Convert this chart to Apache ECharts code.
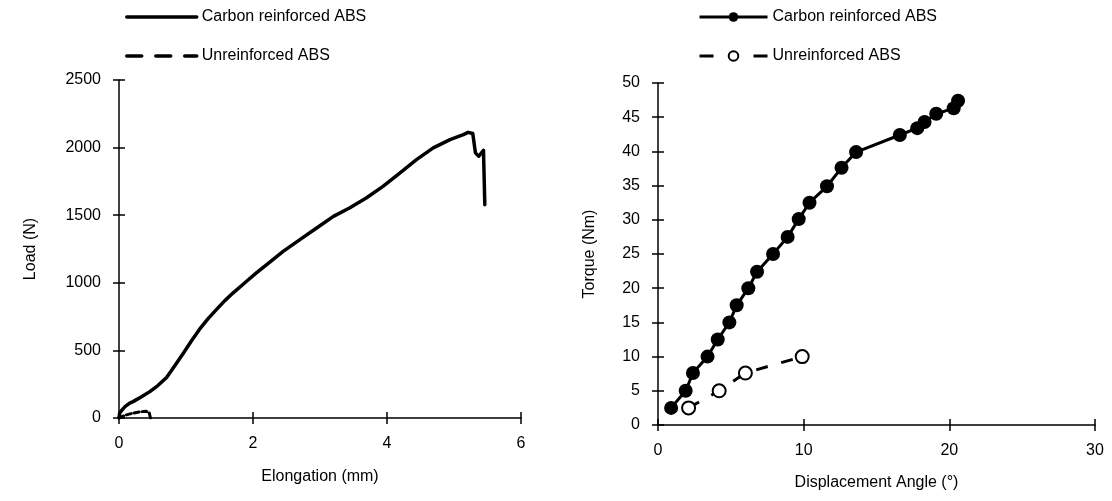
<!DOCTYPE html>
<html>
<head>
<meta charset="utf-8">
<script src="https://cdn.jsdelivr.net/npm/echarts@6/dist/echarts.min.js"></script>
<style>
html,body{margin:0;padding:0;background:#fff;}
#c{width:1112px;height:501px;}
</style>
</head>
<body>
<div id="c"></div>
<script>
// Left chart: Load vs Elongation
var carbonElong = [0, 0.01, 0.05, 0.09, 0.16, 0.21, 0.33, 0.46, 0.58, 0.71, 0.83, 0.96, 1.08, 1.2, 1.33, 1.46, 1.58, 1.7, 1.9, 2.05, 2.2, 2.45, 2.7, 2.95, 3.2, 3.44, 3.69, 3.94, 4.19, 4.44, 4.69, 4.94, 5.14, 5.21, 5.28, 5.32, 5.37, 5.44, 5.46];
var carbonLoad  = [0, 37, 62, 84, 110, 121, 155, 195, 240, 300, 385, 479, 570, 655, 735, 805, 868, 924, 1010, 1073, 1133, 1232, 1319, 1405, 1491, 1553, 1627, 1713, 1812, 1911, 1998, 2059, 2096, 2113, 2104, 1961, 1936, 1980, 1578];
var unrefElong  = [0, 0.1, 0.2, 0.3, 0.4, 0.45, 0.47];
var unrefLoad   = [0, 22, 35, 45, 50, 40, 0];

// Right chart: Torque vs Displacement angle
var carbonAngle  = [0.9, 1.9, 2.4, 3.4, 4.1, 4.9, 5.4, 6.2, 6.8, 7.9, 8.9, 9.66, 10.4, 11.6, 12.6, 13.6, 16.6, 17.8, 18.3, 19.1, 20.3, 20.6];
var carbonTorque = [2.5, 5, 7.6, 10, 12.5, 15, 17.5, 20, 22.4, 25, 27.5, 30.1, 32.5, 34.9, 37.6, 39.9, 42.4, 43.4, 44.3, 45.5, 46.3, 47.4];
var unrefAngle   = [2.1, 4.2, 6.0, 9.9];
var unrefTorque  = [2.5, 5, 7.6, 10];

var seriesNames = ['Carbon reinforced ABS', 'Unreinforced ABS'];
var axisNames = ['Elongation (mm)', 'Load (N)', 'Displacement Angle (°)', 'Torque (Nm)'];

// left-chart names carry a trailing space so the two legends stay independent
var leftNames = [seriesNames[0] + ' ', seriesNames[1] + ' '];
var rightNames = [seriesNames[0], seriesNames[1]];

function pairs(xs, ys) { return xs.map(function (x, i) { return [x, ys[i]]; }); }

var FONT = 'Liberation Sans, Arial, sans-serif';
var txt = { color: '#000', fontSize: 16, fontFamily: FONT };

var gridL = { left: 119, right: 591, top: 80, bottom: 83 };
var gridR = { left: 658, right: 17, top: 83, bottom: 76 };

function mainAxis(grid, min, max, interval, name, gap) {
  return {
    type: 'value', gridIndex: grid, min: min, max: max, interval: interval,
    name: name, nameLocation: 'middle', nameGap: gap,
    nameTextStyle: txt,
    axisLine: { show: true, onZero: false, lineStyle: { color: '#000', width: 1.5 } },
    axisTick: { show: true, inside: false, length: 6, lineStyle: { color: '#000', width: 1.5 } },
    axisLabel: { color: '#000', fontSize: 16, fontFamily: FONT, margin: 18,
                 formatter: function (v) { return String(v); } },
    splitLine: { show: false }
  };
}
function innerAxis(grid, min, max, interval) {
  return {
    type: 'value', gridIndex: grid, min: min, max: max, interval: interval,
    axisLine: { show: false, onZero: false },
    axisTick: { show: true, inside: true, length: 6, lineStyle: { color: '#000', width: 1.5 } },
    axisLabel: { show: false },
    splitLine: { show: false }
  };
}

var legendText = { color: '#000', fontSize: 16, fontFamily: FONT, lineHeight: 20 };

var option = {
  backgroundColor: '#fff',
  animation: false,
  textStyle: { fontFamily: FONT },
  grid: [gridL, gridR, gridL, gridR],
  xAxis: [
    mainAxis(0, 0, 6, 2, axisNames[0], 51),
    mainAxis(1, 0, 30, 10, axisNames[2], 50),
    innerAxis(2, 0, 6, 2),
    innerAxis(3, 0, 30, 10)
  ],
  yAxis: [
    mainAxis(0, 0, 2500, 500, axisNames[1], 80),
    mainAxis(1, 0, 50, 5, axisNames[3], 60),
    innerAxis(2, 0, 2500, 500),
    innerAxis(3, 0, 50, 5)
  ],
  legend: [
    {
      orient: 'vertical', left: 125, top: 7, padding: 0, itemWidth: 70, itemHeight: 12, itemGap: 19,
      textStyle: legendText,
      data: [
        { name: leftNames[0], itemStyle: { opacity: 0 }, lineStyle: { width: 3.5, type: 'solid' } },
        { name: leftNames[1], itemStyle: { opacity: 0 }, lineStyle: { width: 3.5, type: [15, 14] } }
      ]
    },
    {
      orient: 'vertical', left: 698, top: 7, padding: 0, itemWidth: 68, itemHeight: 12, itemGap: 19,
      textStyle: legendText,
      data: [
        { name: rightNames[0], lineStyle: { width: 3 } },
        { name: rightNames[1], lineStyle: { width: 3, type: [14, 40] } }
      ]
    }
  ],
  series: [
    {
      name: leftNames[0], type: 'line', xAxisIndex: 0, yAxisIndex: 0,
      data: pairs(carbonElong, carbonLoad), symbol: 'none', smooth: false,
      lineStyle: { color: '#000', width: 3.5, join: 'round', cap: 'round' },
      itemStyle: { color: '#000' }
    },
    {
      name: leftNames[1], type: 'line', xAxisIndex: 0, yAxisIndex: 0,
      data: pairs(unrefElong, unrefLoad), symbol: 'none',
      lineStyle: { color: '#000', width: 3, type: [5, 3], cap: 'round' },
      itemStyle: { color: '#000' }
    },
    {
      name: rightNames[0], type: 'line', xAxisIndex: 1, yAxisIndex: 1,
      data: pairs(carbonAngle, carbonTorque), symbol: 'circle', symbolSize: 14,
      lineStyle: { color: '#000', width: 3 },
      itemStyle: { color: '#000', borderColor: '#000', borderWidth: 0 }
    },
    {
      name: rightNames[1], type: 'line', xAxisIndex: 1, yAxisIndex: 1,
      data: pairs(unrefAngle, unrefTorque), symbol: 'circle', symbolSize: 13,
      lineStyle: { color: '#000', width: 3, type: [12, 14] },
      itemStyle: { color: '#fff', borderColor: '#000', borderWidth: 2 }
    }
  ]
};

var chart = echarts.init(document.getElementById('c'), null, { renderer: 'canvas' });
chart.setOption(option);
</script>
</body>
</html>
